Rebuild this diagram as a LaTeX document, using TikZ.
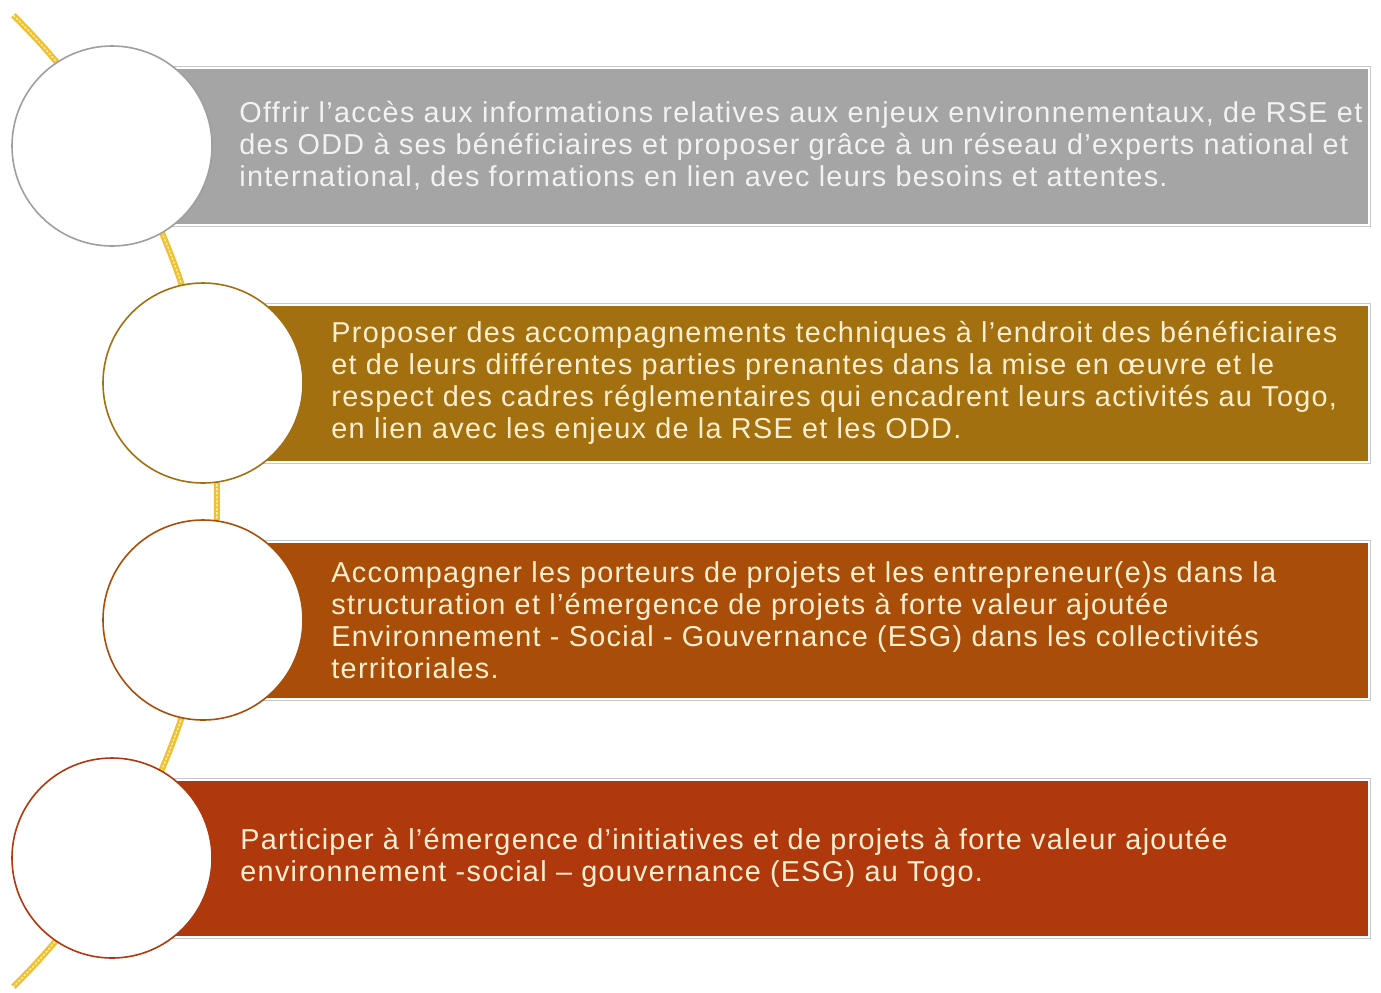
\documentclass[tikz,border=0pt]{standalone}
\usepackage{fontspec}
\setmainfont[LetterSpace=4.5]{Liberation Sans}
\usetikzlibrary{positioning}

\definecolor{boxgray}{HTML}{A5A5A5}
\definecolor{boxgold}{HTML}{A3700F}
\definecolor{boxbrown}{HTML}{A84E08}
\definecolor{boxred}{HTML}{B0380D}
\definecolor{rimgray}{HTML}{C8C8C8}
\definecolor{spineyellow}{HTML}{F0C030}
\definecolor{spinelight}{HTML}{FFF0B0}
\definecolor{textcream}{HTML}{FFEFD0}

\tikzset{
  stepbox/.style={rectangle, minimum height=78.5bp, inner sep=0pt, outer sep=0pt,
    draw=white, line width=1bp, preaction={draw=rimgray, line width=2bp}},
  stepdisc/.style={circle, fill=white, minimum size=100bp, inner sep=0pt, outer sep=0pt, line width=0.8bp},
  steptext/.style={inner sep=0pt, align=left, text=textcream, font=\fontsize{14.4bp}{16bp}\selectfont},
  spine/.style={draw=spinelight, line width=0.7bp, dash pattern=on 1.2bp off 0.8bp,
    preaction={draw=spineyellow, line width=3bp}},
}

\begin{document}
\begin{tikzpicture}[x=0.5bp, y=-0.5bp]
    \useasboundingbox (0,0) rectangle (1381,992);

    \coordinate (p1) at (112,146);
    \coordinate (p2) at (203,383);
    \coordinate (p3) at (203,620);
    \coordinate (p4) at (112,858);
    \coordinate (arc) at (-464,501);

    \draw[spine] ([shift={(45.5:340.5bp)}]arc) arc[start angle=45.5, end angle=-45.5, radius=340.5bp];

    \node[stepbox, fill=boxgray, minimum width=598.5bp, right=30bp of p1] (b1) {};
    \node[stepbox, fill=boxgold, minimum width=553bp, right=30bp of p2] (b2) {};
    \node[stepbox, fill=boxbrown, minimum width=553bp, right=30bp of p3] (b3) {};
    \node[stepbox, fill=boxred, minimum width=598.5bp, right=30bp of p4] (b4) {};

    \node[stepdisc, draw=gray!75] (c1) at (p1) {};
    \node[stepdisc, draw=boxgold] (c2) at (p2) {};
    \node[stepdisc, draw=boxbrown] (c3) at (p3) {};
    \node[stepdisc, draw=boxred] (c4) at (p4) {};

    \node[steptext, text=white!95!black, right=13.5bp of c1] (t1) {Offrir l’accès aux informations relatives aux enjeux environnementaux, de RSE et\\
      des ODD à ses bénéficiaires et proposer grâce à un réseau d’experts national et\\
      international, des formations en lien avec leurs besoins et attentes.};
    \node[steptext, right=14bp of c2] (t2) {Proposer des accompagnements techniques à l’endroit des bénéficiaires\\
      et de leurs différentes parties prenantes dans la mise en œuvre et le\\
      respect des cadres réglementaires qui encadrent leurs activités au Togo,\\
      en lien avec les enjeux de la RSE et les ODD.};
    \node[steptext, right=14bp of c3] (t3) {Accompagner les porteurs de projets et les entrepreneur(e)s dans la\\
      structuration et l’émergence de projets à forte valeur ajoutée\\
      Environnement - Social - Gouvernance (ESG) dans les collectivités\\
      territoriales.};
    \node[steptext, right=14bp of c4] (t4) {Participer à l’émergence d’initiatives et de projets à forte valeur ajoutée\\
      environnement -social – gouvernance (ESG) au Togo.};
\end{tikzpicture}
\end{document}
